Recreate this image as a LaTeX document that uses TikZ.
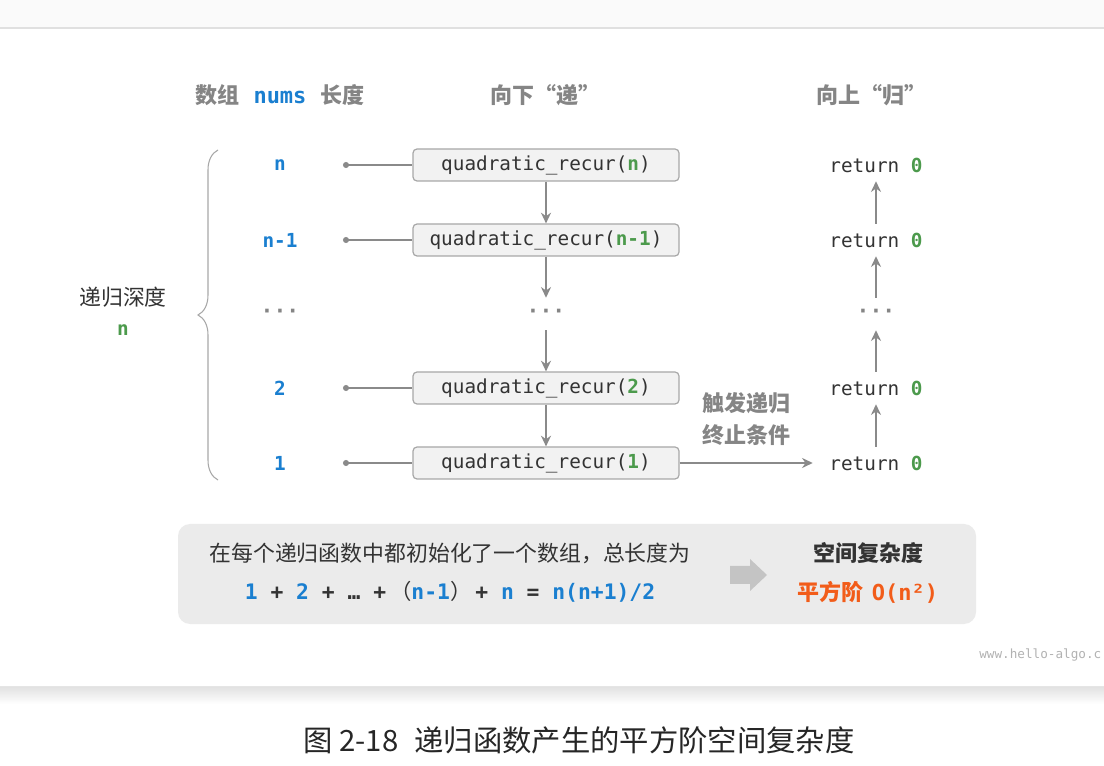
\documentclass[tikz,border=0pt]{standalone}
\usepackage{fontspec}
\setmainfont{Noto Sans CJK SC}
\setmonofont{DejaVu Sans Mono}
\usetikzlibrary{arrows.meta,decorations.pathreplacing,positioning}

\definecolor{hdgray}{HTML}{858585}
\definecolor{numblue}{HTML}{1A7FD0}
\definecolor{argreen}{HTML}{4C9A4C}
\definecolor{boxfill}{HTML}{F2F2F2}
\definecolor{boxline}{HTML}{A8A8A8}
\definecolor{arrowgray}{HTML}{8A8A8A}
\definecolor{panelfill}{HTML}{EBEBEB}
\definecolor{blockgray}{HTML}{C4C4C4}
\definecolor{hotorange}{HTML}{F25C19}
\definecolor{textdark}{HTML}{333333}

\tikzset{
    head/.style={font=\fontsize{16.5}{24}\selectfont\bfseries, text=hdgray, align=center},
    lenlabel/.style={font=\fontsize{14.5}{17}\selectfont\ttfamily\bfseries, text=numblue},
    callbox/.style={draw=boxline, fill=boxfill, line width=0.9pt, rounded corners=3pt,
        minimum width=199.5pt, minimum height=24pt, inner sep=0pt,
        font=\fontsize{14.5}{17}\selectfont\ttfamily, text=textdark},
    retlabel/.style={minimum height=24pt, font=\fontsize{14.5}{17}\selectfont\ttfamily, text=textdark},
    dotsnode/.style={minimum height=24pt, font=\fontsize{16}{17}\selectfont\ttfamily\bfseries, text=hdgray},
    flow/.style={draw=arrowgray, line width=1.5pt, -{Stealth[length=8pt,width=7.5pt]}},
    dotline/.style={draw=arrowgray, line width=1pt, {Circle[length=4.5pt]}-},
    paneltext/.style={font=\fontsize{16.4}{20}\selectfont, text=textdark}
}

\begin{document}
\begin{tikzpicture}[x=0.75pt, y=-0.75pt]
    \useasboundingbox (0,0) rectangle (1104,766);
    % page background
    \fill[white] (0,0) rectangle (1104,766);
    \fill[black!2] (0,0) rectangle (1104,28);
    \draw[black!12, line width=0.8pt] (0,28) -- (1104,28);
    \shade[top color=black!12, bottom color=white] (0,686) rectangle (1104,704);
    \draw[black!10, line width=0.6pt] (0,686) -- (1104,686);
    % Column headers
    \node[head] (head-len) at (280,95) {数组\hspace{10.5pt}\textcolor{numblue}{\ttfamily nums}\hspace{10.5pt}长度};
    \node[head] (head-down) at (545,95) {向下“递”};
    \node[head] (head-up) at (871,95) {向上“归”};
    % Rows of calls
    \foreach \nm/\y/\arg in {a/165/n, b/240/n-1, c/388/2, d/463/1} {
        \node[lenlabel] (len-\nm) at (280,\y) {\arg};
        \coordinate (tail-\nm) at (343,\y);
        \node[callbox] (call-\nm) at (546,\y) {quadratic\_recur(\textcolor{argreen}{\bfseries\arg})};
        \node[retlabel] (ret-\nm) at (876,\y) {return \textcolor{argreen}{\bfseries 0}};
        \draw[dotline] (tail-\nm) -- (call-\nm.west);
    }
    \node[dotsnode] (len-dots) at (280,314) {···};
    \node[dotsnode] (call-dots) at (546,314) {···};
    \node[dotsnode] (ret-dots) at (876,314) {···};
    % Going down
    \draw[flow] (call-a) -- (call-b);
    \draw[flow] (call-b) -- (call-dots);
    \draw[flow] (call-dots) -- (call-c);
    \draw[flow] (call-c) -- (call-d);
    % Going up
    \draw[flow] (ret-d) -- (ret-c);
    \draw[flow] (ret-c) -- (ret-dots);
    \draw[flow] (ret-dots) -- (ret-b);
    \draw[flow] (ret-b) -- (ret-a);
    \draw[flow, shorten >=9pt] (call-d) -- (ret-d);
    \node[head] (trigger) at (746,419) {触发递归\\终止条件};
    % Recursion depth
    \draw[boxline, line width=0.8pt, decorate, decoration={brace, amplitude=15pt}] (218,480) -- (218,150);
    \node[paneltext] (depth) at (123,297) {递归深度};
    \node[lenlabel, text=argreen] (depth-n) at (123,330) {n};
    % Summary panel
    \node[fill=panelfill, rounded corners=9pt, minimum width=598.5pt, minimum height=75pt] (panel) at (577,574) {};
    \node[paneltext] (panel-note) at (450,553) {在每个递归函数中都初始化了一个数组，总长度为};
    \node[font=\fontsize{16}{18}\selectfont\ttfamily\bfseries, text=textdark] (panel-sum) at (450,592)
        {\textcolor{numblue}{1} + \textcolor{numblue}{2} + … +\hspace{3pt}{\rmfamily\mdseries （}\textcolor{numblue}{n-1}{\rmfamily\mdseries ）}\hspace{3pt}+ \textcolor{numblue}{n} = \textcolor{numblue}{n(n+1)/2}};
    \fill[blockgray] (730,566) -- (750,566) -- (750,559) -- (767,575) -- (750,591) -- (750,584) -- (730,584) -- cycle;
    \node[head, text=textdark] (space-title) at (868,553) {空间复杂度};
    \node[head, text=hotorange] (space-order) at (868,592) {平方阶\hspace{6pt}{\ttfamily O(n²)}};
    % Watermark and caption
    \node[anchor=west, inner sep=0pt, font=\fontsize{9.5}{11}\selectfont\ttfamily, text=black!30] (mark) at (979,655) {www.hello-algo.c};
    \node[font=\fontsize{22}{25}\selectfont, text=black!85] (caption) at (579,740) {图 2-18\hspace{12pt}递归函数产生的平方阶空间复杂度};
\end{tikzpicture}
\end{document}
